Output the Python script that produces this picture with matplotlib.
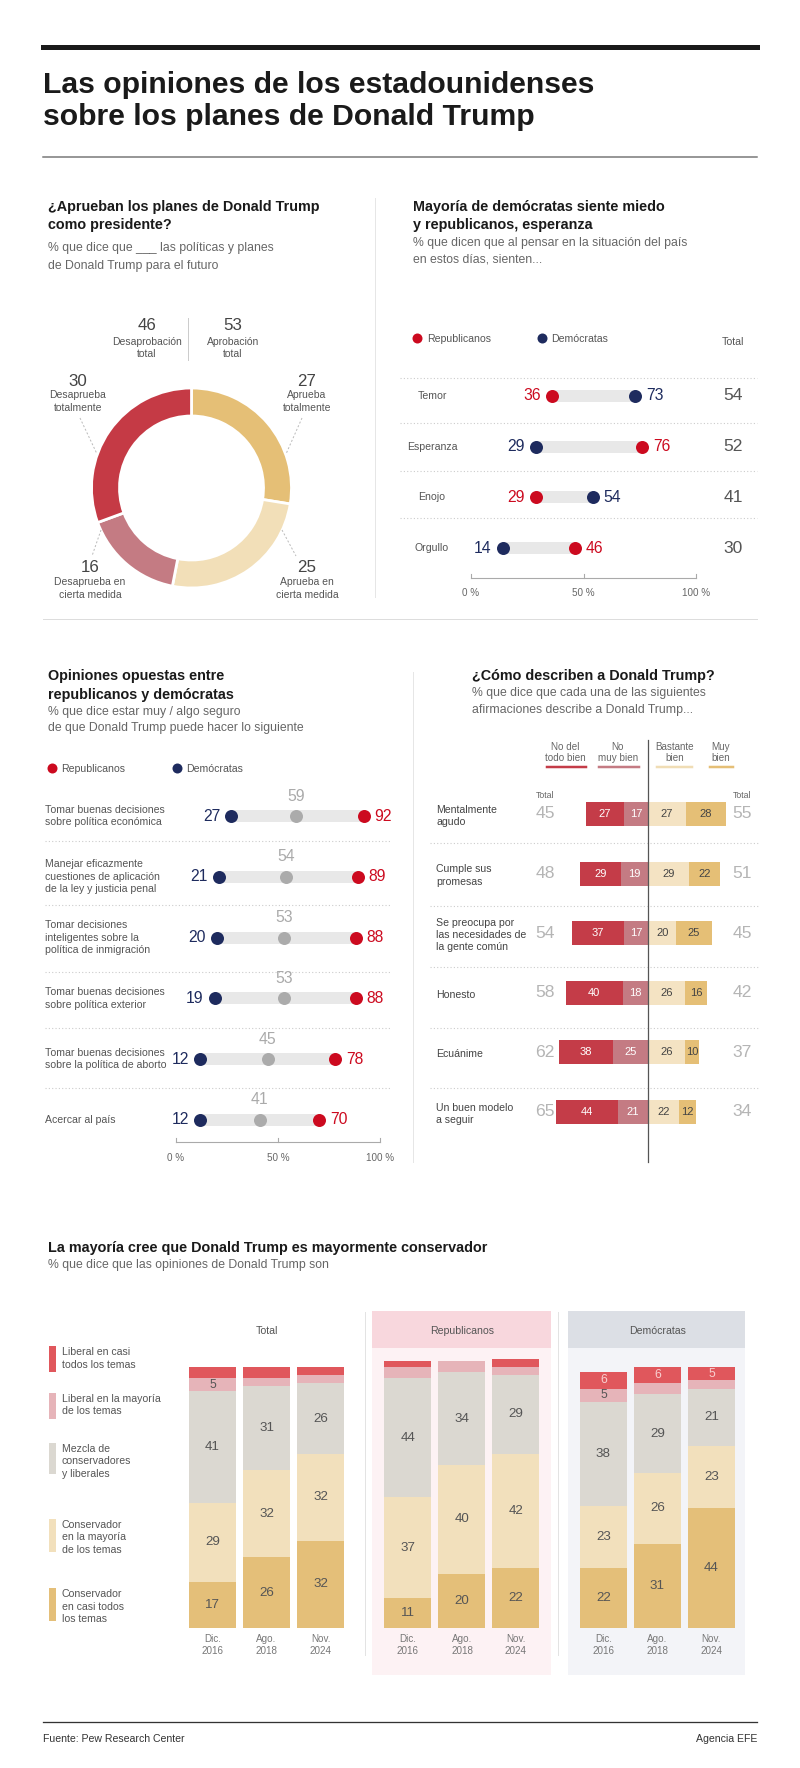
import matplotlib
matplotlib.use("Agg")
import matplotlib.pyplot as plt
import matplotlib.font_manager as fm
from matplotlib.patches import Rectangle
from matplotlib.lines import Line2D

# ---------------- data ----------------
title_lines = ["Las opiniones de los estadounidenses", "sobre los planes de Donald Trump"]

donut_labels = ["Aprueba\ntotalmente", "Aprueba en\ncierta medida",
                "Desaprueba en\ncierta medida", "Desaprueba\ntotalmente"]
donut_values = [27, 25, 16, 30]
approval_total = 53
disapproval_total = 46

feel_cats = ["Temor", "Esperanza", "Enojo", "Orgullo"]
feel_rep = [36, 76, 29, 46]
feel_dem = [73, 29, 54, 14]
feel_total = [54, 52, 41, 30]

conf_cats = ["Tomar buenas decisiones\nsobre política económica",
             "Manejar eficazmente\ncuestiones de aplicación\nde la ley y justicia penal",
             "Tomar decisiones\ninteligentes sobre la\npolítica de inmigración",
             "Tomar buenas decisiones\nsobre política exterior",
             "Tomar buenas decisiones\nsobre la política de aborto",
             "Acercar al país"]
conf_dem = [27, 21, 20, 19, 12, 12]
conf_total = [59, 54, 53, 53, 45, 41]
conf_rep = [92, 89, 88, 88, 78, 70]

desc_cats = ["Mentalmente\nagudo", "Cumple sus\npromesas",
             "Se preocupa por\nlas necesidades de\nla gente común",
             "Honesto", "Ecuánime", "Un buen modelo\na seguir"]
desc_not_at_all = [27, 29, 37, 40, 38, 44]
desc_not_too = [17, 19, 17, 18, 25, 21]
desc_fairly = [27, 29, 20, 26, 26, 22]
desc_very = [28, 22, 25, 16, 10, 12]
desc_total_neg = [45, 48, 54, 58, 62, 65]
desc_total_pos = [55, 51, 45, 42, 37, 34]
desc_headers = ["No del\ntodo bien", "No\nmuy bien", "Bastante\nbien", "Muy\nbien"]

ideo_groups = ["Total", "Republicanos", "Demócratas"]
ideo_periods = ["Dic.\n2016", "Ago.\n2018", "Nov.\n2024"]
ideo_names = ["Conservador\nen casi todos\nlos temas", "Conservador\nen la mayoría\nde los temas",
              "Mezcla de\nconservadores\ny liberales", "Liberal en la mayoría\nde los temas",
              "Liberal en casi\ntodos los temas"]
# order of values: Total (2016, 2018, 2024), Republicanos (...), Demócratas (...)
ideo_cons_all = [17, 26, 32, 11, 20, 22, 22, 31, 44]
ideo_cons_most = [29, 32, 32, 37, 40, 42, 23, 26, 23]
ideo_mixed = [41, 31, 26, 44, 34, 29, 38, 29, 21]
ideo_lib_most = [5, 3, 3, 4, 4, 3, 5, 4, 3]
ideo_lib_all = [4, 4, 3, 2, 0, 3, 6, 6, 5]

source_text = "Fuente: Pew Research Center"
agency_text = "Agencia EFE"

# ---------------- style ----------------
RED = "#CC0A1F"
NAVY = "#1E2B5E"
GREYDOT = "#ABABAB"
BARBG = "#E8E8E8"
TXT = "#555555"
SUB = "#666666"
DONUT_COLORS = ["#E5BF76", "#F2DFB8", "#C47B83", "#C53A45"]
DESC_COLORS = ["#C43C48", "#C47B83", "#F4E3C3", "#E5BF76"]
IDEO_COLORS = ["#E4BF79", "#F2E0BC", "#DBD8D1", "#E6B4B9", "#E0575C"]

names = {f.name for f in fm.fontManager.ttflist}
HAS_NARROW = "Liberation Sans Narrow" in names
NFAM = ["Liberation Sans Narrow"] if HAS_NARROW else ["Liberation Sans"]
NK = 1.0 if HAS_NARROW else 0.84
WFAM = ["Liberation Sans"]

W, H = 800, 1768
fig = plt.figure(figsize=(W / 100, H / 100), dpi=100)
fig.patch.set_facecolor("white")


def fp(size, narrow=True, bold=False):
    return dict(family=NFAM if narrow else WFAM,
                fontsize=size * (NK if narrow else 1.0),
                fontweight="bold" if bold else "normal")


def T(x, y, s, size, color=TXT, narrow=True, bold=False, ha="left", va="center"):
    fig.text(x / W, 1 - y / H, s, color=color, ha=ha, va=va, **fp(size, narrow, bold))


def ML(x, yc, s, size, dy, **kw):
    lines = s.split("\n")
    n = len(lines)
    for k, ln in enumerate(lines):
        T(x, yc + (k - (n - 1) / 2) * dy, ln, size, **kw)


def HEAD(x, y, s):
    T(x, y, s, 10.4, color="#1A1A1A", narrow=False, bold=True)


def SUBT(x, y, s):
    T(x, y, s, 8.8, color=SUB, narrow=False)


def HL(x0, x1, y, color, lw_px=1.0, ls="-"):
    fig.add_artist(Line2D([x0 / W, x1 / W], [1 - y / H, 1 - y / H], transform=fig.transFigure,
                          color=color, lw=lw_px * 0.72, ls=ls))


def VL(x, y0, y1, color, lw_px=1.0, ls="-"):
    fig.add_artist(Line2D([x / W, x / W], [1 - y0 / H, 1 - y1 / H], transform=fig.transFigure,
                          color=color, lw=lw_px * 0.72, ls=ls))


def SEG(x0, y0, x1, y1, color, lw_px=1.0, ls="-"):
    fig.add_artist(Line2D([x0 / W, x1 / W], [1 - y0 / H, 1 - y1 / H], transform=fig.transFigure,
                          color=color, lw=lw_px * 0.72, ls=ls))


def RECT(x0, y0, x1, y1, color, z=-1):
    fig.add_artist(Rectangle((x0 / W, 1 - y1 / H), (x1 - x0) / W, (y1 - y0) / H,
                             transform=fig.transFigure, facecolor=color, edgecolor="none", zorder=z))


def mkax(x0, x1, y0, y1, xo, xs, yo, ys):
    ax = fig.add_axes([x0 / W, 1 - y1 / H, (x1 - x0) / W, (y1 - y0) / H])
    ax.set_xlim((x0 - xo) / xs, (x1 - xo) / xs)
    ax.set_ylim((y1 - yo) / ys, (y0 - yo) / ys)
    ax.axis("off")
    ax.patch.set_alpha(0)
    ax.xo, ax.xs, ax.yo, ax.ys = xo, xs, yo, ys
    return ax


def dx(ax, px):
    return (px - ax.xo) / ax.xs


def dy(ax, py):
    return (py - ax.yo) / ax.ys


DOT = (13 * 0.72) ** 2
LDOT = (10 * 0.72) ** 2

# ---------------- header ----------------
HL(43, 757, 47, "#1A1A1A", 5)
T(43, 85, title_lines[0], 21.7, color="#1A1A1A", narrow=False, bold=True)
T(43, 117, title_lines[1], 21.7, color="#1A1A1A", narrow=False, bold=True)
HL(43, 757, 157, "#777777", 1.5)

# ---------------- section 1: donut ----------------
HEAD(48, 207, "¿Aprueban los planes de Donald Trump")
HEAD(48, 225, "como presidente?")
SUBT(48, 248, "% que dice que ___ las políticas y planes")
SUBT(48, 266, "de Donald Trump para el futuro")

cx, cy, R = 191.5, 488, 100
axd = mkax(cx - 130, cx + 130, cy - 130, cy + 130, cx, R, cy, -R)
axd.pie(donut_values, colors=DONUT_COLORS, startangle=90, counterclock=False, radius=1.0,
        wedgeprops=dict(width=0.28, edgecolor="white", linewidth=2))
axd.set_xlim(-1.3, 1.3)
axd.set_ylim(-1.3, 1.3)
axd.set_aspect("equal")

T(147, 326, str(disapproval_total), 14.5, color="#444444", ha="center")
ML(147, 348, "Desaprobación\ntotal", 8.9, 12.5, ha="center")
T(233, 326, str(approval_total), 14.5, color="#444444", ha="center")
ML(233, 348, "Aprobación\ntotal", 8.9, 12.5, ha="center")
VL(188, 318, 360, "#CCCCCC", 1)

donut_label_pos = [(307, 381), (307, 568), (90, 568), (78, 381)]
for (lx, ly), v, lab in zip(donut_label_pos, donut_values, donut_labels):
    T(lx, ly, str(v), 14.5, color="#444444", ha="center")
    ML(lx, ly + 20.5, lab, 8.9, 12.5, ha="center")
SEG(80, 418, 97, 454, "#BBBBBB", 1, ls=(0, (2, 2)))
SEG(302, 418, 286, 454, "#BBBBBB", 1, ls=(0, (2, 2)))
SEG(101, 530, 92, 556, "#BBBBBB", 1, ls=(0, (2, 2)))
SEG(282, 530, 296, 556, "#BBBBBB", 1, ls=(0, (2, 2)))

VL(375, 198, 597, "#E6E6E6", 1)

# ---------------- section 2: feelings ----------------
HEAD(413, 207, "Mayoría de demócratas siente miedo")
HEAD(413, 225, "y republicanos, esperanza")
SUBT(413, 243, "% que dicen que al pensar en la situación del país")
SUBT(413, 260, "en estos días, sienten...")

ax2 = mkax(400, 760, 325, 605, 471, 2.25, 396, 50.7)
rows2 = list(range(len(feel_cats)))
for i in rows2:
    lo, hi = min(feel_rep[i], feel_dem[i]), max(feel_rep[i], feel_dem[i])
    ax2.barh(i, hi - lo, left=lo, height=12 / 50.7, color=BARBG, zorder=1)
ax2.scatter(feel_rep, rows2, s=DOT, color=RED, zorder=3, linewidths=0)
ax2.scatter(feel_dem, rows2, s=DOT, color=NAVY, zorder=3, linewidths=0)
for i in rows2:
    lo = min(feel_rep[i], feel_dem[i])
    for v, c in ((feel_rep[i], RED), (feel_dem[i], NAVY)):
        left = v == lo
        ax2.annotate(str(v), (v, i), xytext=(-11 * 0.72 if left else 11 * 0.72, 0),
                     textcoords="offset points", ha="right" if left else "left", va="center",
                     color=c, **fp(13.5))
    ax2.text(dx(ax2, 733), i, str(feel_total[i]), ha="center", va="center", color=TXT, **fp(15))
    ax2.text(dx(ax2, 432), i, feel_cats[i], ha="center", va="center", color=TXT, **fp(9))
for sy in (378, 423, 471, 518):
    ax2.plot([dx(ax2, 400), dx(ax2, 757)], [dy(ax2, sy)] * 2, color="#CCCCCC",
             lw=0.8, ls=(0, (1, 2)))
ya = dy(ax2, 578)
ax2.plot([0, 100], [ya, ya], color="#AAAAAA", lw=0.8)
for t in (0, 50, 100):
    ax2.plot([t, t], [ya, dy(ax2, 574)], color="#AAAAAA", lw=0.8)
    ax2.text(t, dy(ax2, 593), f"{t} %", ha="center", va="center", color=SUB, **fp(8.5))
ax2.scatter([dx(ax2, 417)], [dy(ax2, 338)], s=LDOT, color=RED, linewidths=0)
ax2.scatter([dx(ax2, 542)], [dy(ax2, 338)], s=LDOT, color=NAVY, linewidths=0)
ax2.text(dx(ax2, 427), dy(ax2, 339), "Republicanos", ha="left", va="center", color=TXT, **fp(9))
ax2.text(dx(ax2, 551), dy(ax2, 339), "Demócratas", ha="left", va="center", color=TXT, **fp(9))
ax2.text(dx(ax2, 733), dy(ax2, 342), "Total", ha="center", va="center", color=TXT, **fp(9))

HL(43, 757, 619, "#DDDDDD", 1)

# ---------------- section 3: confidence ----------------
HEAD(48, 676, "Opiniones opuestas entre")
HEAD(48, 695, "republicanos y demócratas")
SUBT(48, 712, "% que dice estar muy / algo seguro")
SUBT(48, 728, "de que Donald Trump puede hacer lo siguiente")

ax3 = mkax(40, 400, 750, 1170, 176, 2.04, 816, 60.8)
rows3 = list(range(len(conf_cats)))
for i in rows3:
    ax3.barh(i, conf_rep[i] - conf_dem[i], left=conf_dem[i], height=12 / 60.8, color=BARBG, zorder=1)
ax3.scatter(conf_dem, rows3, s=DOT, color=NAVY, zorder=3, linewidths=0)
ax3.scatter(conf_total, rows3, s=DOT, color=GREYDOT, zorder=3, linewidths=0)
ax3.scatter(conf_rep, rows3, s=DOT, color=RED, zorder=3, linewidths=0)
for i in rows3:
    ax3.annotate(str(conf_dem[i]), (conf_dem[i], i), xytext=(-11 * 0.72, 0), textcoords="offset points",
                 ha="right", va="center", color=NAVY, **fp(13.5))
    ax3.annotate(str(conf_rep[i]), (conf_rep[i], i), xytext=(11 * 0.72, 0), textcoords="offset points",
                 ha="left", va="center", color=RED, **fp(13.5))
    ax3.annotate(str(conf_total[i]), (conf_total[i], i), xytext=(0, 20 * 0.72), textcoords="offset points",
                 ha="center", va="center", color="#AAAAAA", **fp(13.5))
    ML(45, ax3.yo + i * ax3.ys, conf_cats[i], 9, 12.5)
for sy in (841, 905, 972, 1028, 1088):
    ax3.plot([dx(ax3, 45), dx(ax3, 390)], [dy(ax3, sy)] * 2, color="#CCCCCC", lw=0.8, ls=(0, (1, 2)))
ya = dy(ax3, 1142)
ax3.plot([0, 100], [ya, ya], color="#AAAAAA", lw=0.8)
for t in (0, 50, 100):
    ax3.plot([t, t], [ya, dy(ax3, 1138)], color="#AAAAAA", lw=0.8)
    ax3.text(t, dy(ax3, 1158), f"{t} %", ha="center", va="center", color=SUB, **fp(8.5))
ax3.scatter([dx(ax3, 52)], [dy(ax3, 768)], s=LDOT, color=RED, linewidths=0)
ax3.scatter([dx(ax3, 177)], [dy(ax3, 768)], s=LDOT, color=NAVY, linewidths=0)
ax3.text(dx(ax3, 61), dy(ax3, 769), "Republicanos", ha="left", va="center", color=TXT, **fp(9))
ax3.text(dx(ax3, 186), dy(ax3, 769), "Demócratas", ha="left", va="center", color=TXT, **fp(9))

VL(413, 672, 1162, "#E6E6E6", 1)

# ---------------- section 4: descriptions ----------------
HEAD(472, 676, "¿Cómo describen a Donald Trump?")
SUBT(472, 693, "% que dice que cada una de las siguientes")
SUBT(472, 710, "afirmaciones describe a Donald Trump...")

ax4 = mkax(420, 760, 735, 1170, 648, 1.415, 814, 59.6)
rows4 = list(range(len(desc_cats)))
bh = 24 / 59.6
neg_in = [-v for v in desc_not_too]
neg_out = [-v for v in desc_not_at_all]
ax4.barh(rows4, neg_in, left=0, height=bh, color=DESC_COLORS[1], zorder=2)
ax4.barh(rows4, neg_out, left=neg_in, height=bh, color=DESC_COLORS[0], zorder=2)
ax4.barh(rows4, desc_fairly, left=0, height=bh, color=DESC_COLORS[2], zorder=2)
ax4.barh(rows4, desc_very, left=desc_fairly, height=bh, color=DESC_COLORS[3], zorder=2)
for i in rows4:
    segs = [(-desc_not_too[i] - desc_not_at_all[i] / 2, desc_not_at_all[i], "white"),
            (-desc_not_too[i] / 2, desc_not_too[i], "white"),
            (desc_fairly[i] / 2, desc_fairly[i], "#444444"),
            (desc_fairly[i] + desc_very[i] / 2, desc_very[i], "#444444")]
    for xc, v, c in segs:
        ax4.text(xc, i, str(v), ha="center", va="center", color=c, zorder=4, **fp(9.5))
    ax4.text(dx(ax4, 545), i, str(desc_total_neg[i]), ha="center", va="center", color="#B5B5B5", **fp(15))
    ax4.text(dx(ax4, 742), i, str(desc_total_pos[i]), ha="center", va="center", color="#B5B5B5", **fp(15))
    ML(436, ax4.yo + i * ax4.ys + 2, desc_cats[i], 9, 12.3, color="#444444")
ax4.plot([0, 0], [dy(ax4, 740), dy(ax4, 1162)], color="#555555", lw=0.9, zorder=5)
for sy in (843, 906, 967, 1028, 1088):
    ax4.plot([dx(ax4, 430), dx(ax4, 758)], [dy(ax4, sy)] * 2, color="#CCCCCC", lw=0.8, ls=(0, (1, 2)))
ax4.text(dx(ax4, 545), dy(ax4, 796), "Total", ha="center", va="center", color=SUB, **fp(7.5))
ax4.text(dx(ax4, 742), dy(ax4, 796), "Total", ha="center", va="center", color=SUB, **fp(7.5))
hdr_x = [565, 618, 675, 721]
hdr_ul = [(547, 586), (599, 639), (657, 692), (710, 733)]
hdr_colors = [DESC_COLORS[0], DESC_COLORS[1], "#F0DDB5", DESC_COLORS[3]]
for hx, (u0, u1), hc, lab in zip(hdr_x, hdr_ul, hdr_colors, desc_headers):
    ML(hx, 752.5, lab, 8.5, 11.5, ha="center", color=SUB)
    HL(u0, u1, 767, hc, 2.5)

# ---------------- section 5: ideology ----------------
HEAD(48, 1248, "La mayoría cree que Donald Trump es mayormente conservador")
SUBT(48, 1265, "% que dice que las opiniones de Donald Trump son")

RECT(372, 1311, 551, 1348, "#F8D7DD")
RECT(372, 1348, 551, 1675, "#FDF2F4")
RECT(568, 1311, 745, 1348, "#DCDFE5")
RECT(568, 1348, 745, 1675, "#F3F4F8")
VL(365, 1312, 1655, "#E3E3E3", 1)
VL(558, 1312, 1655, "#E3E3E3", 1)

ax5 = mkax(150, 760, 1340, 1640, 212.5, 54, 1628, -2.72)
GSTEP = 3.62
pos = [g * GSTEP + i for g in range(len(ideo_groups)) for i in range(len(ideo_periods))]
series = [ideo_cons_all, ideo_cons_most, ideo_mixed, ideo_lib_most, ideo_lib_all]
bottom = [0] * len(pos)
for k, (vals, col) in enumerate(zip(series, IDEO_COLORS)):
    ax5.bar(pos, vals, bottom=bottom, width=47 / 54, color=col, zorder=2, linewidth=0)
    for p, b, v in zip(pos, bottom, vals):
        if v >= 5:
            c = "#F8D0D0" if k == 4 else "#555555"
            ax5.text(p, b + v / 2, str(v), ha="center", va="center", color=c, zorder=3,
                     **fp(11.5 if v >= 10 else 10.5))
    bottom = [b + v for b, v in zip(bottom, vals)]
for p, lab in zip(pos, ideo_periods * len(ideo_groups)):
    l1, l2 = lab.split("\n")
    ax5.text(p, dy(ax5, 1639), l1, ha="center", va="center", color="#777777", **fp(8.5))
    ax5.text(p, dy(ax5, 1651), l2, ha="center", va="center", color="#777777", **fp(8.5))
for g, name in enumerate(ideo_groups):
    ax5.text(g * GSTEP + 1, dy(ax5, 1331), name, ha="center", va="center", color=TXT, **fp(9))

legend_rects = [(1588, 1621), (1519, 1552), (1443, 1474), (1393, 1419), (1346, 1372)]
for (r0, r1), col, name in zip(legend_rects, IDEO_COLORS, ideo_names):
    RECT(49, r0, 56, r1, col, z=1)
    n = len(name.split("\n"))
    ML(62, r0 + 6 + (n - 1) * 12.5 / 2, name, 9, 12.5)

# ---------------- footer ----------------
HL(43, 757, 1722, "#333333", 1.3)
T(43, 1739, source_text, 9, color="#333333")
T(757, 1739, agency_text, 9, color="#333333", ha="right")

fig.savefig("out.png", dpi=100, facecolor="white")
